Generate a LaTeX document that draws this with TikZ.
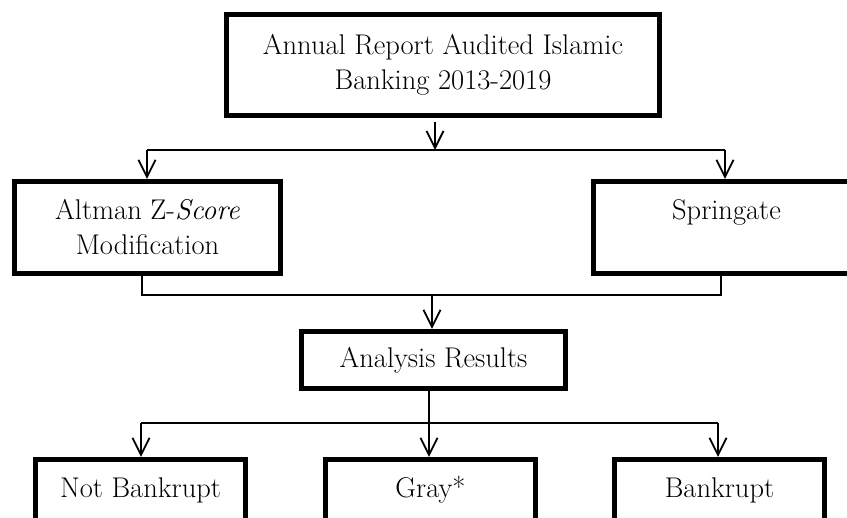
\documentclass[tikz,border=0pt]{standalone}
\usepackage{fontspec}
\usetikzlibrary{arrows.meta}
\begin{document}
\begin{tikzpicture}[x=1pt,y=-1pt,
  box/.style={draw, line width=4.8pt, inner sep=0pt, align=center,
    font=\fontsize{28.5}{35}\selectfont},
  conn/.style={line width=1.6pt},
  arr/.style={conn, -{Straight Barb[length=17pt,width=17pt,line width=1.8pt]}}
]
\useasboundingbox (0,0) rectangle (847,518);

\node[box, minimum width=433.5pt, minimum height=101.5pt] (top) at (443,65)
  {Annual Report Audited Islamic\\Banking 2013-2019};
\node[box, minimum width=266.5pt, minimum height=92.5pt] (alt) at (147.5,227.5)
  {Altman Z-\textit{Score}\\Modification};
\node[box, minimum width=266.5pt, minimum height=92.5pt] (spr) at (726.5,227.5)
  {Springate\\\mbox{}};
\node[box, minimum width=264.5pt, minimum height=57.5pt] (ana) at (433.5,360)
  {Analysis Results};
\node[box, minimum width=210.5pt, minimum height=61.5pt] (nb) at (140.5,490)
  {Not Bankrupt};
\node[box, minimum width=210.5pt, minimum height=61.5pt] (gray) at (430.5,490)
  {Gray*};
\node[box, minimum width=210.5pt, minimum height=61.5pt] (bk) at (719.5,490)
  {Bankrupt};

% top split
\coordinate (t1) at (435,122);
\coordinate (hL) at (147,150);
\coordinate (hR) at (725,150);
\draw[arr] (t1) -- (t1 |- hL);
\draw[conn] (hL) -- (hR);
\draw[arr] (hL) -- (alt.north -| hL);
\draw[arr] (hR) -- (spr.north -| hR);

% merge
\coordinate (mL) at (142,295);
\coordinate (mR) at (721,295);
\coordinate (mM) at (432,295);
\draw[conn] (alt.south -| mL) -- (mL) -- (mR) -- (spr.south -| mR);
\draw[arr] (mM) -- (ana.north -| mM);

% bottom split
\coordinate (bL) at (141,423);
\coordinate (bR) at (718,423);
\coordinate (bM) at (429,423);
\draw[conn] (bL) -- (bR);
\draw[arr] (ana.south -| bM) -- (gray.north -| bM);
\draw[arr] (bL) -- (nb.north -| bL);
\draw[arr] (bR) -- (bk.north -| bR);
\end{tikzpicture}
\end{document}
